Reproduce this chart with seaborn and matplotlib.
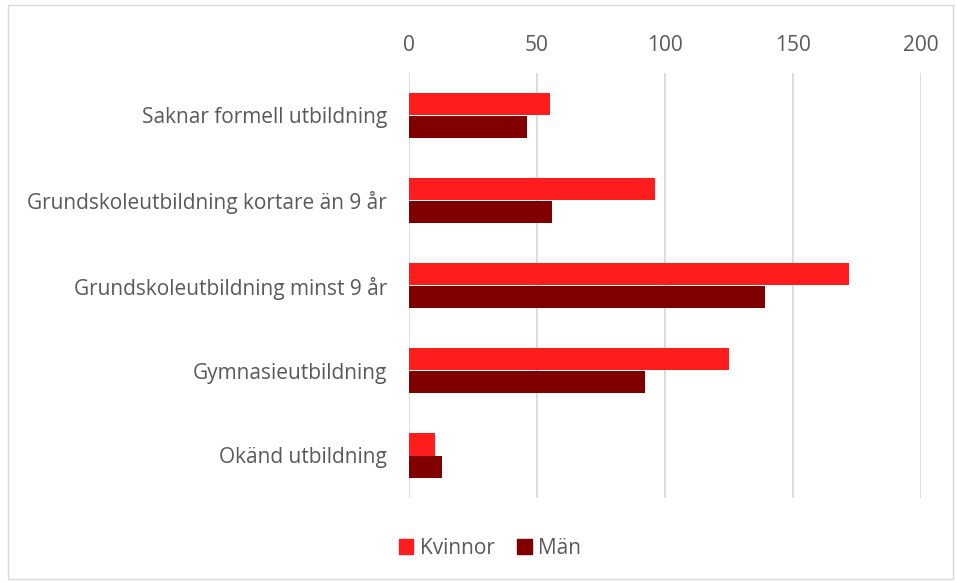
import numpy as np
import pandas as pd
import matplotlib.pyplot as plt
import matplotlib.patches as mpatches
import seaborn as sns

# data
categories = ["Saknar formell utbildning",
              "Grundskoleutbildning kortare än 9 år",
              "Grundskoleutbildning minst 9 år",
              "Gymnasieutbildning",
              "Okänd utbildning"]
kvinnor = [55, 96, 172, 125, 10]
man = [46, 56, 139, 92, 13]
series = ["Kvinnor", "Män"]
colors = ["#FF1C1C", "#800000"]

df = pd.DataFrame({
    "kategori": categories * 2,
    "antal": kvinnor + man,
    "kon": [series[0]] * len(categories) + [series[1]] * len(categories),
})

sns.set_style("white")
plt.rcParams["font.family"] = ["Open Sans", "DejaVu Sans"]

fig = plt.figure(figsize=(9.57, 5.83), dpi=100)
ax = fig.add_axes([409 / 957, 1 - 498 / 583, 512 / 957, 425 / 583])

sns.barplot(data=df, x="antal", y="kategori", hue="kon", orient="h",
            palette=colors, width=0.52, saturation=1, linewidth=0,
            ax=ax, legend=False)

ax.set_xlim(0, 200)
ax.set_xticks([0, 50, 100, 150, 200])
ax.xaxis.tick_top()
ax.tick_params(axis="x", length=0, pad=12, labelsize=15, labelcolor="#595959")
ax.tick_params(axis="y", length=0, pad=16, labelsize=15, labelcolor="#595959")
ax.grid(axis="x", color="#D9D9D9", linewidth=1.3)
ax.set_axisbelow(True)
for s in ax.spines.values():
    s.set_visible(False)
ax.set_xlabel("")
ax.set_ylabel("")

handles = [mpatches.Patch(color=c, label=l) for c, l in zip(colors, series)]
fig.legend(handles=handles, loc="center", bbox_to_anchor=(490 / 957, 1 - 548 / 583),
           ncol=2, frameon=False, fontsize=15, labelcolor="#595959",
           handlelength=0.7, handleheight=0.7, handletextpad=0.3, columnspacing=1.1)

fig.patches.append(mpatches.Rectangle((8 / 957, 4 / 583), 945 / 957, 574 / 583,
                                      transform=fig.transFigure, fill=False,
                                      edgecolor="#D9D9D9", linewidth=1))

plt.savefig("out.png", dpi=100)
